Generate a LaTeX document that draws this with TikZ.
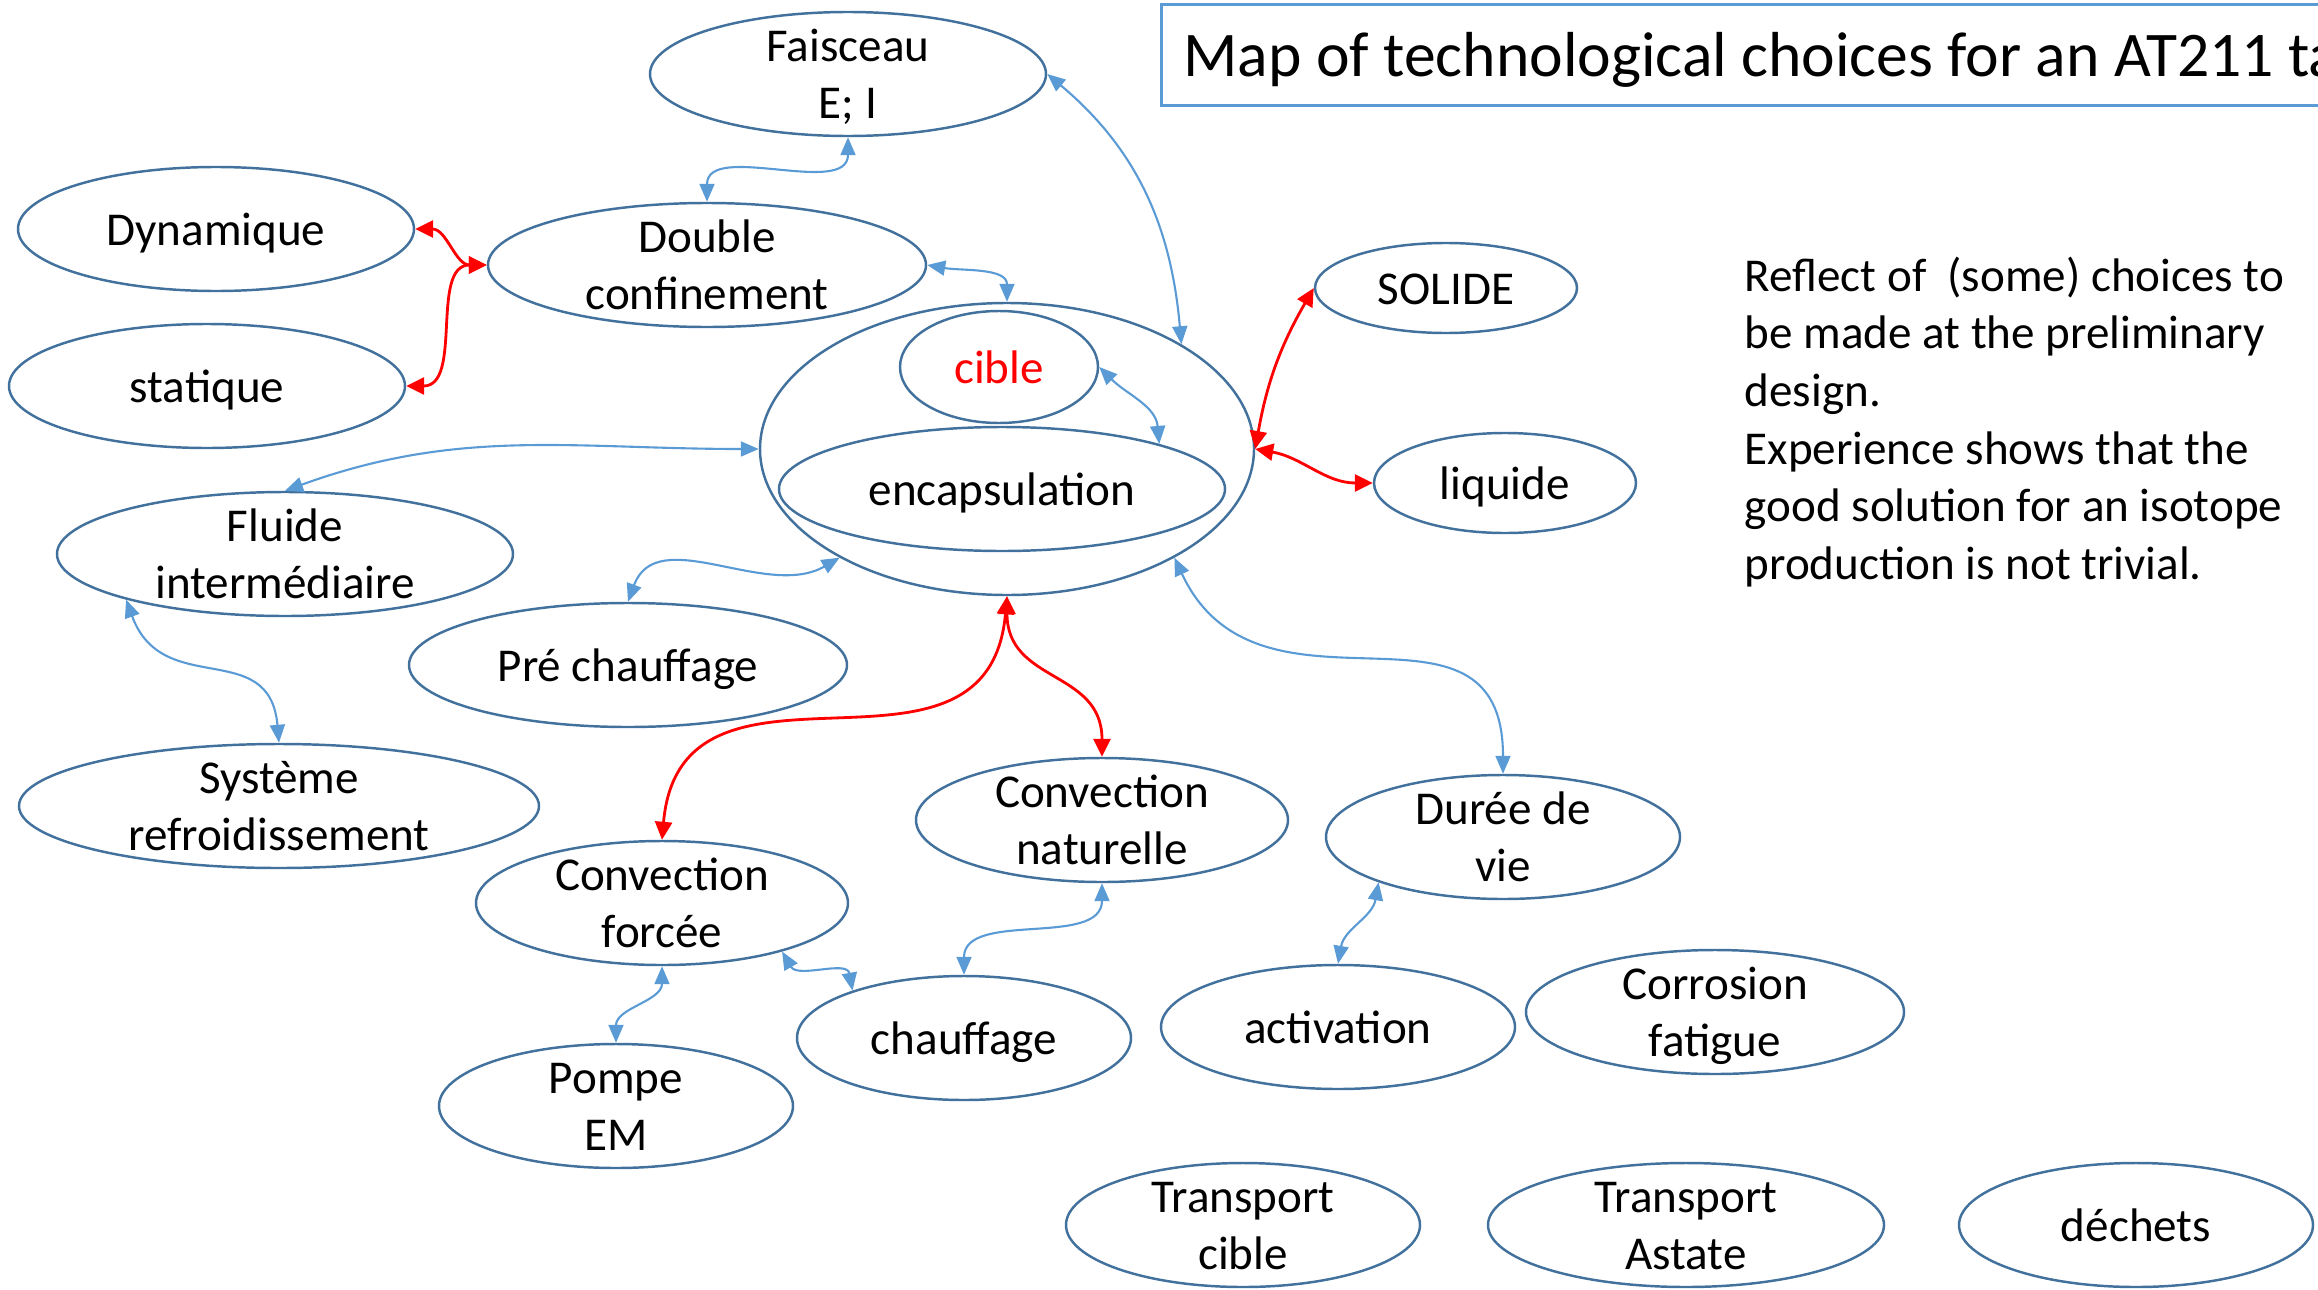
\documentclass[tikz,border=0pt]{standalone}
\usepackage{fontspec}
\setmainfont{Carlito}
\usepackage{xcolor}
\usetikzlibrary{shapes.geometric,arrows.meta}
\definecolor{elblue}{HTML}{41719C}
\definecolor{lnblue}{HTML}{5B9BD5}
\newcommand{\elh}{1.24cm}
\newcommand{\txtfont}{\fontsize{13.4}{16.4}\selectfont}
\newcommand{\sts}{\rule[-0.269em]{0pt}{1.221em}}
\tikzset{
    elsty/.style={draw=elblue,line width=0.7pt,ellipse,inner xsep=0pt,inner ysep=-0.15cm,minimum height=\elh,align=center,font=\txtfont},
    bluesty/.style={draw=lnblue,line width=0.6pt,>={Triangle[length=1.8mm,width=1.5mm]},<->},
    redsty/.style={draw=red,line width=0.8pt,>={Triangle[length=1.8mm,width=1.7mm]},<->},
    titlesty/.style={draw=lnblue,line width=0.9pt,rectangle,anchor=west,minimum height=0.96cm,inner xsep=0.22cm,font=\fontsize{18.1}{22.1}\selectfont},
    notesty/.style={anchor=north west,inner sep=0pt,align=left,font=\txtfont},
}

\begin{document}
\begin{tikzpicture}
\useasboundingbox (0,0) rectangle (23.18,12.89);
\clip (0,0) rectangle (23.18,12.89);

% title and remark
\node[titlesty] (title) at (11.60,12.34) {\makebox[13cm][l]{\sts Map of technological choices for an AT211 target}};
\node[notesty] (note) at (17.44,10.33) {Reflect of~ (some) choices to\\be made at the preliminary\\design.\\Experience shows that the\\good solution for an isotope\\production is not trivial.};

% choices
\node[elsty,minimum width=3.96cm] (fais) at (8.48,12.15) {\sts Faisceau\\\sts E; I};
\node[elsty,minimum width=4.38cm] (dbl) at (7.07,10.24) {\sts Double\\\sts confinement};
\node[elsty,minimum width=3.96cm] (dyn) at (2.16,10.60) {\sts Dynamique};
\node[elsty,minimum width=3.96cm] (stat) at (2.07,9.03) {\sts statique};
\node[elsty,minimum width=4.94cm,minimum height=2.92cm] (outer) at (10.07,8.40) {};
\node[elsty,minimum width=1.98cm,minimum height=1.12cm,text=red] (cible) at (9.99,9.22) {\sts cible};
\node[elsty,minimum width=4.46cm] (encap) at (10.02,8.00) {\sts encapsulation};
\node[elsty,minimum width=2.62cm,minimum height=0.90cm] (solide) at (14.46,10.01) {\sts SOLIDE};
\node[elsty,minimum width=2.62cm,minimum height=1.00cm] (liquide) at (15.05,8.06) {\sts liquide};
\node[elsty,minimum width=4.56cm] (fluide) at (2.85,7.35) {\sts Fluide\\\sts interm\'ediaire};
\node[elsty,minimum width=4.38cm] (pre) at (6.28,6.24) {\sts Pr\'e chauffage};
\node[elsty,minimum width=5.20cm] (sys) at (2.79,4.83) {\sts Syst\`eme\\\sts refroidissement};
\node[elsty,minimum width=3.72cm] (cf) at (6.62,3.86) {\sts Convection\\\sts forc\'ee};
\node[elsty,minimum width=3.72cm] (cn) at (11.02,4.69) {\sts Convection\\\sts naturelle};
\node[elsty,minimum width=3.54cm] (duree) at (15.03,4.52) {\sts Dur\'ee de\\\sts vie};
\node[elsty,minimum width=3.34cm] (chauf) at (9.64,2.51) {\sts chauffage};
\node[elsty,minimum width=3.54cm] (pompe) at (6.16,1.83) {\sts Pompe\\\sts EM};
\node[elsty,minimum width=3.54cm] (activ) at (13.38,2.62) {\sts activation};
\node[elsty,minimum width=3.78cm] (corr) at (17.15,2.77) {\sts Corrosion\\\sts fatigue};
\node[elsty,minimum width=3.54cm] (tcible) at (12.43,0.64) {\sts Transport\\\sts cible};
\node[elsty,minimum width=3.96cm] (tastate) at (16.86,0.64) {\sts Transport\\\sts Astate};
\node[elsty,minimum width=3.54cm] (dechets) at (21.36,0.64) {\sts d\'echets};

% links
\draw[bluesty] (fais.east) to[out=-40,in=95] (outer.31);
\draw[bluesty] (fais.south) to[out=-90,in=90] (dbl.north);
\draw[redsty] (dyn.east) to[out=0,in=180] (dbl.west);
\draw[redsty] (stat.east) to[out=0,in=180] (dbl.west);
\draw[bluesty] (dbl.east) to[out=-10,in=90] (outer.north);
\draw[bluesty] (cible.east) to[out=-45,in=95] (encap.16);
\draw[redsty] (solide.west) to[out=240,in=80] (outer.east);
\draw[redsty] (outer.east) to[out=-10,in=180] (liquide.west);
\draw[bluesty] (fluide.north) to[out=20,in=180] (outer.west);
\draw[bluesty] (pre.north) to[out=70,in=210] (outer.213);
\draw[bluesty] (fluide.196) to[out=-70,in=95,looseness=1.3] (sys.north);
\draw[redsty] (outer.south) to[out=-95,in=85,looseness=1.3] (cf.north);
\draw[redsty] (outer.south) to[out=-90,in=90,looseness=1.2] (cn.north);
\draw[bluesty] (outer.-33) to[out=-65,in=90,looseness=1.3] (duree.north);
\draw[bluesty] (cn.south) to[out=-90,in=90] (chauf.north);
\draw[bluesty] (cf.-22) to[out=-60,in=100] (chauf.157);
\draw[bluesty] (cf.south) to[out=-90,in=90] (pompe.north);
\draw[bluesty] (duree.200) to[out=-100,in=80] (activ.north);
\end{tikzpicture}
\end{document}
